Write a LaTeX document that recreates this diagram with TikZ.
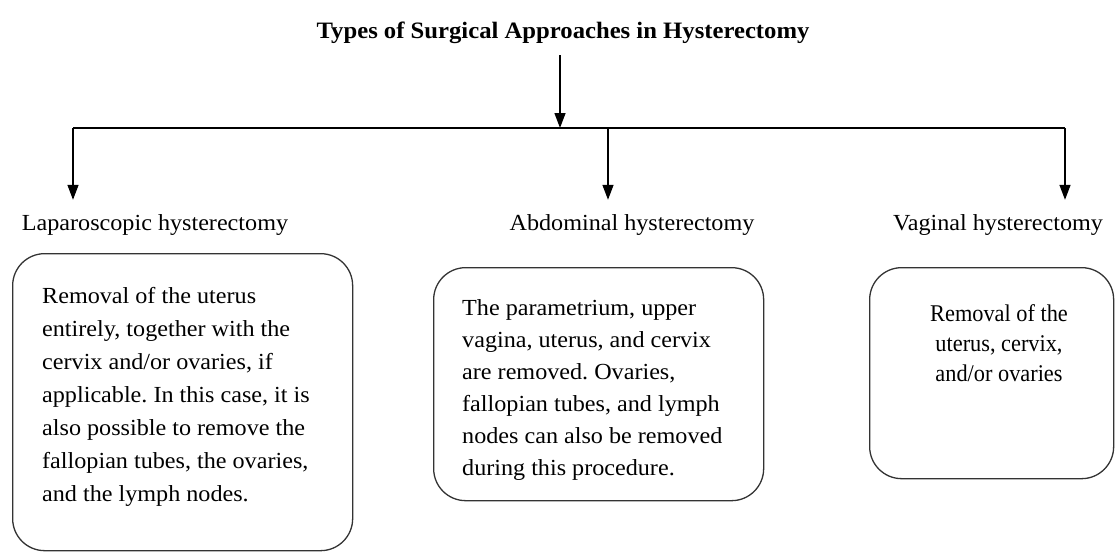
\documentclass[tikz,border=0pt]{standalone}
\usepackage{fontspec}
\setmainfont{Liberation Serif}[FakeStretch=1.05]
\newfontfamily\narrowserif{Liberation Serif}[FakeStretch=0.93]
\usetikzlibrary{arrows.meta}
\frenchspacing
\begin{document}
\begin{tikzpicture}[x=1pt,y=-1pt,
  conn/.style={line width=1.4pt, draw=black},
  arr/.style={conn,-{Triangle[length=15pt,width=11pt]}},
  lbl/.style={font=\fontsize{23}{28}\selectfont, anchor=base, inner xsep=0pt, inner ysep=14pt, text height=16pt, text depth=5pt},
  desc/.style={font=\fontsize{23}{32}\selectfont, inner sep=0pt, anchor=north west, align=left},
  card/.style={draw=black!80, line width=1.3pt, rounded corners=32pt, anchor=north west, inner sep=0pt},
]
\useasboundingbox (0,0) rectangle (1115,552);

% title
\node[font=\bfseries\fontsize{23.5}{28}\selectfont, anchor=base, inner sep=0pt] (title) at (563,38) {Types of Surgical Approaches in Hysterectomy};

% hub and branches
\coordinate (hub) at (560,128);
\coordinate (L) at (73,128);
\coordinate (M) at (608,128);
\coordinate (R) at (1065,128);
\draw[arr] ([yshift=-12pt]title.south -| hub) -- (hub);
\draw[conn] (L) -- (R);

% labels
\node[lbl] (lap) at (155,230) {Laparoscopic hysterectomy};
\node[lbl] (abd) at (632,230) {Abdominal hysterectomy};
\node[lbl] (vag) at (998,230) {Vaginal hysterectomy};

\draw[arr] (L) -- (L |- lap.north);
\draw[arr] (M) -- (M |- abd.north);
\draw[arr] (R) -- (R |- vag.north);

% boxes
\node[card, minimum width=340pt, minimum height=297pt] (lapbox) at (12,253) {};
\node[card, minimum width=330pt, minimum height=233pt] (abdbox) at (433,267) {};
\node[card, minimum width=244pt, minimum height=211pt] (vagbox) at (869,267) {};

% box texts
\node[desc, font=\fontsize{23}{33}\selectfont] (laptext) at (42,287) {Removal of the uterus\\entirely, together with the\\cervix and/or ovaries, if\\applicable. In this case, it is\\also possible to remove the\\fallopian tubes, the ovaries,\\and the lymph nodes.};
\node[desc] (abdtext) at (462,299) {The parametrium, upper\\vagina, uterus, and cervix\\are removed. Ovaries,\\fallopian tubes, and lymph\\nodes can also be removed\\during this procedure.};
\node[desc, font=\narrowserif\fontsize{24}{30}\selectfont, align=center, anchor=north] (vagtext) at (999,304) {Removal of the\\uterus, cervix,\\and/or ovaries};
\end{tikzpicture}
\end{document}
